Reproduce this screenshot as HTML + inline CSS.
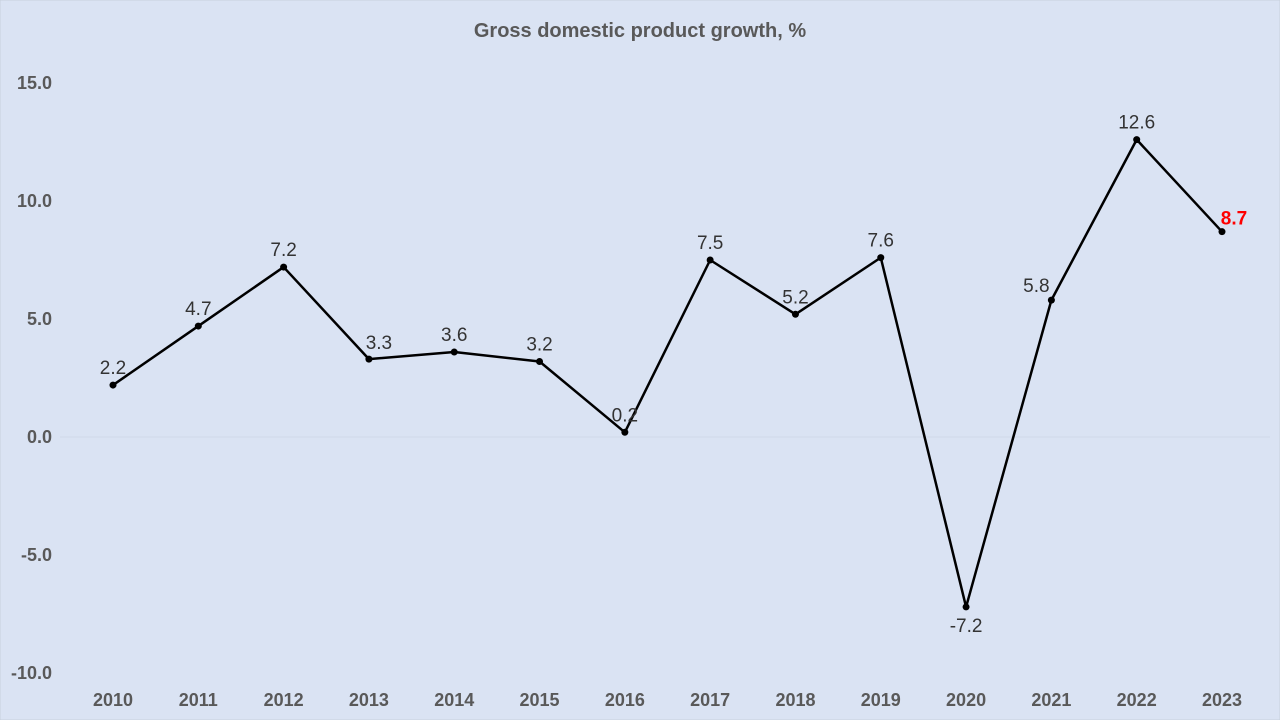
<!DOCTYPE html>
<html><head><meta charset="utf-8"><style>
html,body{margin:0;padding:0;background:#dae3f3;}
svg{display:block;font-family:"Liberation Sans",sans-serif;}
</style></head><body>
<svg id="chart" width="1280" height="720">
<rect x="0" y="0" width="1280" height="720" fill="#dae3f3" stroke="#c8d0dc"/>
<text x="640" y="37" text-anchor="middle" font-size="20" font-weight="bold" fill="#595959">Gross domestic product growth, %</text>
<g id="grid"></g><g id="yticks"></g><g id="xticks"></g><g id="series"></g><g id="labels"></g>
</svg>
<script>
const categories=["2010","2011","2012","2013","2014","2015","2016","2017","2018","2019","2020","2021","2022","2023"];
const values=[2.2,4.7,7.2,3.3,3.6,3.2,0.2,7.5,5.2,7.6,-7.2,5.8,12.6,8.7];
const yTicks=[15,10,5,0,-5,-10];
const NS="http://www.w3.org/2000/svg";
function x(i){return 113+i*(1222-113)/13;}
function y(v){return 437-v*23.6;}
function mk(t,a,p){const e=document.createElementNS(NS,t);for(const k in a)e.setAttribute(k,a[k]);p.appendChild(e);return e;}
const grid=document.getElementById('grid');
const zl=mk('line',{x1:60,x2:1270,y1:y(0),y2:y(0),stroke:'#d0d8e8','stroke-width':1},grid);


const yt=document.getElementById('yticks');
yTicks.forEach(v=>{const t=mk('text',{x:52,y:y(v)+6,'text-anchor':'end','font-size':18,'font-weight':'bold',fill:'#595959'},yt);t.textContent=v.toFixed(1);

});
const xt=document.getElementById('xticks');
categories.forEach((c,i)=>{const t=mk('text',{x:x(i),y:706,'text-anchor':'middle','font-size':18,'font-weight':'bold',fill:'#595959'},xt);t.textContent=c;

});
const s=document.getElementById('series');
const pl=mk('polyline',{points:values.map((v,i)=>x(i)+','+y(v)).join(' '),fill:'none',stroke:'#000','stroke-width':2.5,'stroke-linejoin':'round'},s);


const lg=document.getElementById('labels');
values.forEach((v,i)=>{const c=mk('circle',{cx:x(i),cy:y(v),r:3.5,fill:'#000'},s);


let lx=x(i),ly=y(v)-11,anc='middle',col='#333333';
if(i===10){ly=y(v)+25;}
if(i===13){lx=x(i)+12;ly=y(v)-7;col='#ff0000';}
if(i===3){lx=x(i)+10;ly=y(v)-10;}
if(i===11){lx=x(i)-15;ly=y(v)-8;}
const t=mk('text',{x:lx,y:ly,'text-anchor':anc,'font-size':19,'font-weight':i===13?'bold':'normal',fill:col},lg);t.textContent=v.toFixed(1);

});
</script>
</body></html>
